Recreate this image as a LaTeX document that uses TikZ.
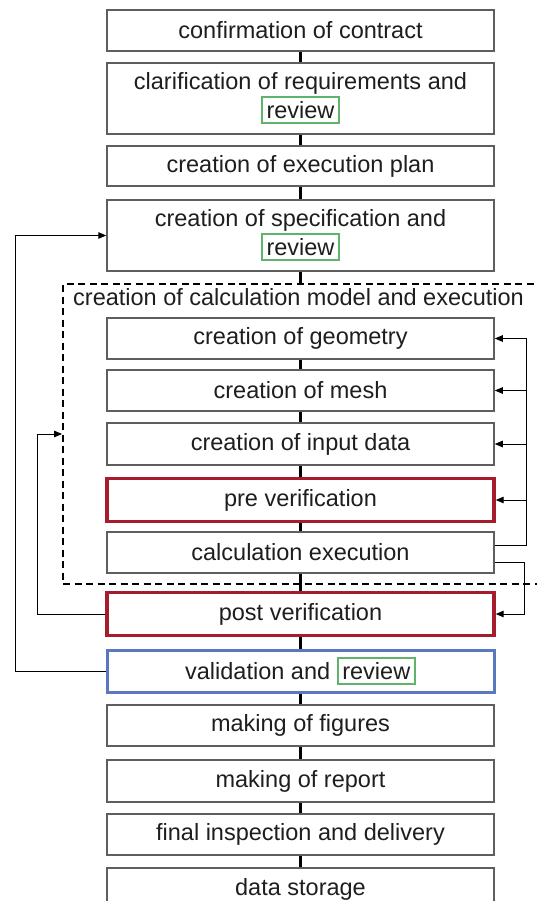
\documentclass[tikz,border=0pt]{standalone}
\usepackage{fontspec}
\setmainfont{Liberation Sans}
\usetikzlibrary{arrows.meta,calc}

\definecolor{boxgray}{HTML}{5E5E5E}
\definecolor{textcol}{HTML}{1E1E1E}
\definecolor{verred}{HTML}{A61C2C}
\definecolor{valblue}{HTML}{5878C0}
\definecolor{revgreen}{HTML}{5FB36A}

\newcommand{\boxfont}{\fontsize{23.5}{28.5}\selectfont}
\newcommand{\revtag}[1]{{\setlength{\fboxrule}{2pt}\setlength{\fboxsep}{3.6pt}\fcolorbox{revgreen}{white}{#1}}}

\begin{document}
\begin{tikzpicture}[x=1pt,y=1pt,
  stepbox/.style={draw=boxgray, line width=1.5pt, fill=white,
    minimum width=387pt, minimum height=41pt, inner sep=0pt,
    align=center, font=\boxfont, text=textcol},
  redbox/.style={stepbox, draw=verred, line width=3.4pt},
  bluebox/.style={stepbox, draw=valblue, line width=3pt},
  groupbox/.style={draw=black, line width=1.8pt, dash pattern=on 7pt off 4.5pt,
    minimum width=482pt, minimum height=300pt, inner sep=0pt},
  link/.style={line width=2.4pt, black},
  fb/.style={line width=1pt, black},
  fbarrow/.style={fb, -{Triangle[length=8pt,width=6.5pt]}}
]
\useasboundingbox (0,0) rectangle (537,-901);
\fill[white] (0,0) rectangle (537,-901);

% sub-process frame
\node[groupbox] (grp) at (304,-434) {};
\node[anchor=west, inner sep=0pt, font=\boxfont, text=textcol] (grplabel) at (73,-297)
  {creation of calculation model and execution};

% process steps
\node[stepbox] (b1) at (300.5,-30.5) {confirmation of contract};
\node[stepbox, minimum height=71pt] (b2) at (300.5,-98.5)
  {clarification of requirements and\\\revtag{review}};
\node[stepbox, minimum height=40pt] (b3) at (300.5,-166) {creation of execution plan};
\node[stepbox, minimum height=71pt] (b4) at (300.5,-235.5)
  {creation of specification and\\\revtag{review}};
\node[stepbox] (geo) at (300.5,-338.5) {creation of geometry};
\node[stepbox] (mesh) at (300.5,-390.5) {creation of mesh};
\node[stepbox, minimum height=42pt] (inp) at (300.5,-444) {creation of input data};
\node[redbox, minimum height=43pt] (pre) at (300.5,-500) {pre verification};
\node[stepbox] (calc) at (300.5,-552.5) {calculation execution};
\node[redbox, minimum height=43pt] (post) at (300.5,-614) {post verification};
\node[bluebox, minimum height=42pt] (val) at (300.5,-671) {validation and \revtag{review}};
\node[stepbox] (fig) at (300.5,-725.5) {making of figures};
\node[stepbox, minimum height=42pt] (rep) at (300.5,-781) {making of report};
\node[stepbox] (fin) at (300.5,-834.5) {final inspection and delivery};
\node[stepbox, minimum height=42pt] (store) at (300.5,-889) {data storage};

% sequence links
\draw[link] (b1.south) -- (b2.north);
\draw[link] (b2.south) -- (b3.north);
\draw[link] (b3.south) -- (b4.north);
\draw[link] (b4.south) -- (b4.south |- grp.north);
\draw[link] (geo.south) -- (mesh.north);
\draw[link] (mesh.south) -- (inp.north);
\draw[link] (inp.south) -- (pre.north);
\draw[link] (pre.south) -- (calc.north);
\draw[link] (calc.south) -- (post.north);
\draw[link] (post.south) -- (val.north);
\draw[link] (val.south) -- (fig.north);
\draw[link] (fig.south) -- (rep.north);
\draw[link] (rep.south) -- (fin.north);
\draw[link] (fin.south) -- (store.north);

% feedback loops on the right
\coordinate (rx1) at (526,0);
\coordinate (rx2) at (524,0);
\draw[fbarrow] ([yshift=7.5pt]calc.east) -| (rx1 |- geo.east) -- (geo.east);
\draw[fbarrow] (rx1 |- mesh.east) -- (mesh.east);
\draw[fbarrow] (rx1 |- inp.east) -- (inp.east);
\draw[fbarrow] (rx1 |- pre.east) -- (pre.east);
\draw[fbarrow] ([yshift=-9.5pt]calc.east) -| (rx2 |- post.east) -- (post.east);

% feedback loops on the left
\coordinate (lx1) at (15,0);
\coordinate (lx2) at (37,0);
\draw[fbarrow] (val.west) -| (lx1 |- b4.west) -- (b4.west);
\draw[fbarrow] (post.west) -| (lx2 |- grp.west) -- (grp.west);
\end{tikzpicture}
\end{document}
